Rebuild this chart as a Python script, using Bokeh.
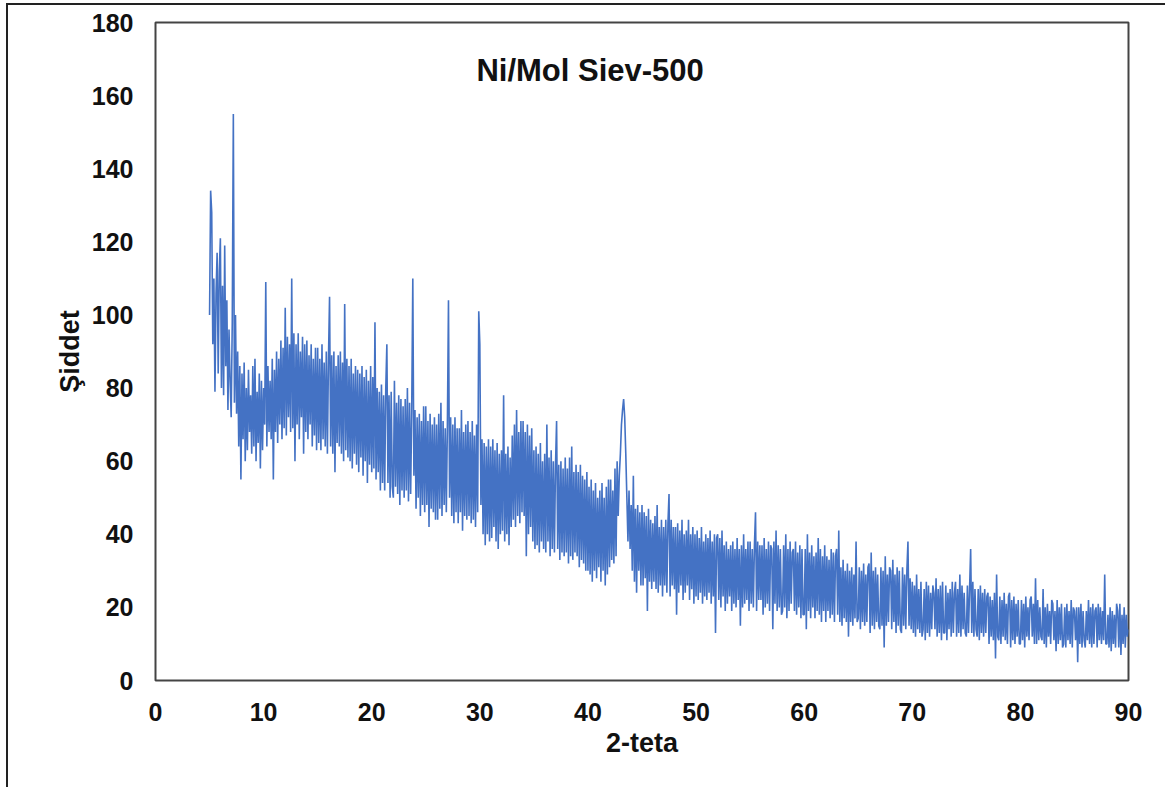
from bokeh.plotting import figure
from bokeh.models import Range1d, FixedTicker, Label, ColumnDataSource
from bokeh.layouts import column
from bokeh.embed import file_html
from bokeh.resources import INLINE

# 2-theta sampling: start, step (degrees)
theta_start = 5.0
theta_step = 0.1

# Intensity, segment by segment (one row per degree)
intensity_05_10 = [
    100, 134, 128, 92, 110, 79, 106, 117, 84, 112,
    121, 80, 108, 78, 119, 86, 104, 74, 96, 82,
    72, 98, 155, 76, 100, 73, 90, 64, 86, 55,
    84, 66, 87, 60, 80, 63, 85, 68, 78, 62,
    86, 64, 88, 60, 79, 65, 84, 58, 82, 63]
intensity_10_20 = [
    80, 70, 109, 64, 86, 68, 82, 66, 88, 55,
    85, 68, 90, 65, 88, 70, 93, 66, 91, 69,
    102, 67, 94, 72, 92, 68, 110, 69, 95, 60,
    92, 70, 95, 66, 90, 72, 94, 62, 92, 68,
    93, 66, 89, 70, 92, 64, 88, 67, 91, 63,
    91, 65, 88, 63, 92, 66, 87, 64, 90, 62,
    88, 105, 64, 89, 62, 90, 57, 86, 65, 89,
    64, 90, 62, 87, 60, 103, 63, 88, 61, 86,
    60, 88, 58, 84, 62, 86, 59, 85, 57, 84,
    61, 86, 56, 83, 60, 85, 54, 82, 59, 86]
intensity_20_30 = [
    57, 83, 58, 98, 55, 80, 57, 79, 52, 81,
    54, 78, 52, 80, 92, 54, 78, 50, 79, 53,
    50, 82, 53, 76, 51, 78, 48, 77, 52, 75,
    50, 77, 52, 80, 49, 76, 51, 74, 110, 56,
    74, 47, 72, 50, 73, 45, 71, 48, 75, 46,
    75, 48, 71, 42, 73, 47, 70, 46, 72, 44,
    70, 44, 73, 47, 76, 45, 71, 48, 69, 46,
    70, 104, 50, 72, 45, 70, 43, 72, 46, 69,
    43, 69, 46, 74, 41, 68, 45, 70, 44, 71,
    45, 68, 43, 71, 44, 67, 42, 70, 46, 101]
intensity_30_40 = [
    92, 48, 66, 40, 65, 37, 64, 40, 66, 38,
    64, 39, 66, 42, 63, 38, 65, 36, 62, 40,
    63, 41, 78, 38, 62, 40, 64, 37, 61, 42,
    67, 44, 70, 42, 74, 45, 68, 43, 71, 46,
    71, 45, 68, 34, 70, 40, 67, 42, 69, 38,
    63, 36, 64, 37, 62, 35, 65, 38, 60, 36,
    62, 35, 70, 38, 61, 34, 63, 36, 60, 35,
    59, 71, 36, 59, 33, 60, 35, 58, 34, 61,
    35, 58, 32, 61, 34, 64, 33, 57, 35, 59,
    34, 57, 31, 59, 33, 56, 32, 55, 30, 57]
intensity_40_50 = [
    30, 53, 29, 55, 27, 52, 30, 54, 28, 50,
    31, 52, 27, 54, 30, 50, 26, 53, 29, 55,
    31, 55, 33, 52, 32, 58, 34, 60, 45, 56,
    62, 70, 74, 77, 72, 62, 50, 38, 52, 36,
    48, 30, 56, 27, 47, 24, 48, 30, 46, 26,
    48, 26, 46, 28, 45, 19, 47, 27, 44, 25,
    43, 27, 45, 25, 48, 24, 42, 26, 44, 23,
    42, 26, 44, 24, 43, 51, 23, 44, 26, 42,
    25, 42, 18, 43, 24, 41, 26, 44, 22, 40,
    24, 41, 26, 44, 22, 40, 25, 42, 21, 40]
intensity_50_60 = [
    23, 41, 22, 39, 24, 42, 21, 38, 23, 40,
    22, 39, 24, 41, 21, 38, 23, 40, 13, 39,
    40, 22, 39, 20, 41, 23, 37, 19, 38, 21,
    36, 23, 37, 19, 38, 21, 36, 20, 39, 22,
    36, 15, 37, 20, 40, 21, 36, 22, 38, 19,
    38, 21, 36, 20, 37, 46, 19, 38, 22, 37,
    22, 37, 18, 39, 20, 36, 21, 38, 19, 37,
    36, 14, 38, 21, 41, 19, 37, 20, 36, 18,
    19, 37, 20, 40, 17, 36, 19, 38, 21, 35,
    36, 19, 38, 18, 35, 20, 37, 17, 36, 18]
intensity_60_70 = [
    18, 36, 14, 40, 19, 35, 17, 37, 20, 34,
    17, 35, 19, 39, 18, 36, 16, 34, 19, 37,
    16, 34, 19, 33, 17, 36, 18, 35, 16, 34,
    36, 18, 41, 16, 31, 15, 33, 17, 30, 16,
    32, 12, 30, 16, 31, 15, 29, 17, 38, 16,
    17, 31, 14, 30, 16, 32, 15, 29, 16, 31,
    32, 13, 35, 15, 30, 14, 31, 16, 29, 15,
    14, 31, 15, 30, 9, 34, 15, 29, 16, 31,
    30, 14, 33, 16, 29, 13, 31, 15, 30, 14,
    13, 31, 15, 29, 14, 30, 38, 15, 28, 14]
intensity_70_80 = [
    27, 13, 26, 12, 29, 14, 25, 13, 27, 12,
    14, 25, 11, 27, 13, 26, 12, 24, 14, 26,
    24, 14, 28, 12, 25, 13, 26, 11, 27, 13,
    13, 26, 11, 24, 14, 25, 12, 27, 13, 24,
    27, 12, 25, 13, 29, 12, 26, 14, 24, 13,
    12, 26, 13, 25, 36, 13, 27, 12, 25, 14,
    12, 25, 11, 26, 13, 24, 12, 25, 13, 23,
    24, 10, 23, 12, 22, 11, 24, 6, 29, 12,
    11, 23, 10, 22, 12, 24, 11, 21, 10, 23,
    24, 9, 22, 11, 23, 10, 21, 12, 22, 10]
intensity_80_90 = [
    10, 22, 11, 21, 9, 23, 12, 20, 11, 22,
    23, 12, 21, 10, 28, 10, 22, 11, 20, 12,
    11, 25, 10, 20, 9, 21, 12, 19, 10, 22,
    21, 11, 19, 8, 22, 10, 20, 11, 21, 9,
    10, 20, 9, 21, 11, 19, 10, 22, 9, 20,
    19, 11, 20, 5, 20, 10, 21, 9, 19, 11,
    9, 19, 11, 22, 10, 20, 9, 21, 10, 19,
    20, 9, 21, 11, 20, 10, 19, 11, 29, 10,
    10, 18, 9, 20, 8, 19, 10, 18, 9, 21,
    19, 9, 21, 7, 18, 10, 20, 9, 18, 12,
    14]

x_ticks = [0, 10, 20, 30, 40, 50, 60, 70, 80, 90]
y_ticks = [0, 20, 40, 60, 80, 100, 120, 140, 160, 180]

intensity = (intensity_05_10 + intensity_10_20 + intensity_20_30 + intensity_30_40 +
             intensity_40_50 + intensity_50_60 + intensity_60_70 + intensity_70_80 +
             intensity_80_90)
two_theta = [round(theta_start + i * theta_step, 2) for i in range(len(intensity))]

src = ColumnDataSource(data=dict(x=two_theta, y=intensity))

FONT = "Liberation Sans"

p = figure(width=1157, height=782, output_backend="svg", toolbar_location=None,
           x_range=Range1d(0, 90), y_range=Range1d(0, 180),
           min_border_left=147, min_border_right=37, min_border_top=17, min_border_bottom=107)

p.line("x", "y", source=src, line_color="#4472C4", line_width=1.6)

p.xgrid.visible = False
p.ygrid.visible = False
p.outline_line_color = "#444444"
p.outline_line_width = 2

for ax in (p.xaxis, p.yaxis):
    ax.axis_line_color = None
    ax.major_tick_line_color = None
    ax.minor_tick_line_color = None
    ax.major_tick_out = 0
    ax.major_tick_in = 0
    ax.major_label_text_font = FONT
    ax.major_label_text_font_style = "bold"
    ax.major_label_text_font_size = "25px"
    ax.major_label_text_color = "#111111"
    ax.axis_label_text_font = FONT
    ax.axis_label_text_font_style = "bold"
    ax.axis_label_text_font_size = "27px"
    ax.axis_label_text_color = "#111111"

p.xaxis.ticker = FixedTicker(ticks=x_ticks)
p.yaxis.ticker = FixedTicker(ticks=y_ticks)
p.xaxis.major_label_standoff = 22
p.yaxis.major_label_standoff = 22
p.xaxis.axis_label = "2-teta"
p.yaxis.axis_label = "Şiddet"
p.xaxis.axis_label_standoff = 4
p.yaxis.axis_label_standoff = 4

title = Label(x=40.2, y=166.8, text="Ni/Mol Siev-500", text_align="center",
              text_baseline="middle", text_font=FONT, text_font_style="bold",
              text_font_size="31px", text_color="#111111")
p.add_layout(title)

layout = column(p, styles={"border-left": "2px solid #222222", "border-top": "2px solid #222222",
                           "margin-left": "6px", "margin-top": "3px"})

open("out.html", "w").write(file_html(layout, INLINE))
